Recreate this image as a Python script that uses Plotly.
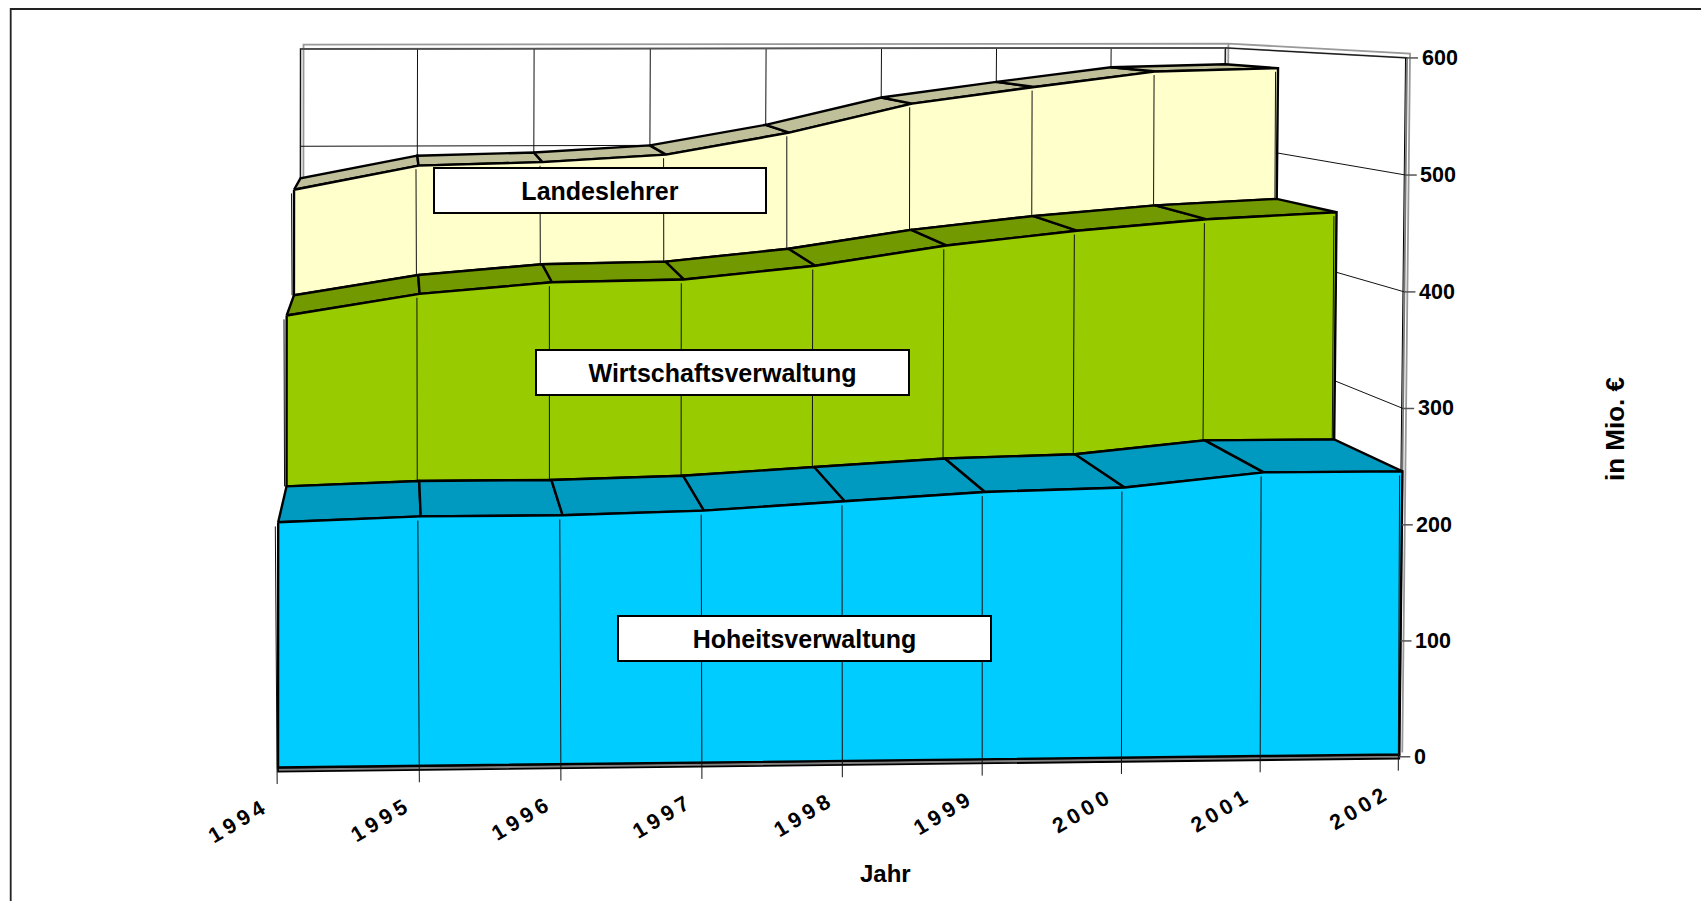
"""
Stacked 3-D area chart of the expenditure per administration branch, 1994-2002.
Plotly has no 3-D area type with this look, so the box is projected onto a flat pixel axis.
"""

import numpy as np
import plotly.graph_objects as go

years = ["1994", "1995", "1996", "1997", "1998", "1999", "2000", "2001", "2002"]
value_ticks = [0, 100, 200, 300, 400, 500, 600]

hoheit = [210, 214, 214, 217, 224, 231, 234, 246, 246]
wirtschaft = [155, 170, 180, 179, 184, 195, 205, 203, 209]
landeslehrer = [102, 106, 99, 104, 113, 123, 126, 131, 128]

series_names = ["Hoheitsverwaltung", "Wirtschaftsverwaltung", "Landeslehrer"]
face_colors = ["#00CCFF", "#99CC00", "#FFFFCC"]
top_colors = ["#0099BF", "#739900", "#BFBF99"]

# camera of the chart box: (year index, depth band, value) -> page pixels
CAMERA = np.array([
    [143.05746, 29.547102, -0.002311, 278.026131],
    [-0.061648, 0.159593, -1.184706, 769.831991],
    [0.002075, 0.074014, -1.1e-05, 1.0],
])

FONT = "Liberation Sans"
n = len(years)
last = n - 1
depth_back = len(series_names)
v_max = value_ticks[-1]


def proj(u, d, v, dx=0, dy=0):
    h = CAMERA @ np.array([u, d, v, 1.0])
    return (h[0] / h[2] + dx, h[1] / h[2] + dy)


fig = go.Figure()


def line(points, color="black", width=1.0):
    fig.add_trace(go.Scatter(
        x=[p[0] for p in points], y=[p[1] for p in points], mode="lines",
        line=dict(color=color, width=width), hoverinfo="skip", showlegend=False,
    ))


def poly(points, fill, width=2.4):
    fig.add_trace(go.Scatter(
        x=[p[0] for p in points] + [points[0][0]], y=[p[1] for p in points] + [points[0][1]],
        mode="lines", fill="toself", fillcolor=fill,
        line=dict(color="black", width=width), hoverinfo="skip", showlegend=False,
    ))


def label(x, y, text, size, **kw):
    fig.add_annotation(x=x, y=y, text=text, showarrow=False,
                       font=dict(family=FONT, size=size, color="black", weight=700), **kw)


# outer frame of the chart area, open to the right and at the bottom
line([(10.7, 901), (10.7, 9), (1701, 9)], "#222222", 1.8)

# double grey frame of the walls
for dx, dy, col in [(3, -4.3, "#999999"), (0, 0, "#777777")]:
    line([proj(0, depth_back, 460, dx, dy), proj(0, depth_back, v_max, dx, dy),
          proj(last, depth_back, v_max, dx, dy), proj(last, 0, v_max, dx, dy),
          proj(last, 0, 0, dx, dy)], col, 1.8)
    line([proj(last, depth_back, v_max, dx, dy), proj(last, depth_back, 560, dx, dy)], col, 1.8)
line([proj(last, 0, v_max, -1.5), proj(last, 0, 0, -1.5)], "black", 1)

# back wall and right wall grid
for i in range(n):
    line([proj(i, depth_back, v_max), proj(i, depth_back, 0)], "#111111", 1)
for v in value_ticks[1:]:
    line([proj(0, depth_back, v), proj(last, depth_back, v), proj(last, 0, v)], "#111111", 1)
line([proj(0, depth_back, v_max), proj(last, depth_back, v_max)], "#555555", 1.5)

# floor edge below the front area
poly([proj(i, 0, 2) for i in range(n)] + [proj(i, 0, -1.5) for i in reversed(range(n))], "#808080", 1.8)

# stacked bands, back one first so the front ones cover it
cumulative = np.cumsum([hoheit, wirtschaft, landeslehrer], axis=0)
for s in reversed(range(len(series_names))):
    top = cumulative[s]
    base = cumulative[s - 1] if s > 0 else [2] * n
    for i in range(n - 1):
        poly([proj(i, s, top[i]), proj(i + 1, s, top[i + 1]),
              proj(i + 1, s + 1, top[i + 1]), proj(i, s + 1, top[i])], top_colors[s])
    poly([proj(i, s, top[i]) for i in range(n)] +
         [proj(i, s, base[i]) for i in reversed(range(n))], face_colors[s])
    shift_low = 0.006 if s == 0 else 0.015
    for i in range(n):
        low = -12 if s == 0 else base[i]
        line([proj(i - 0.02, s, top[i] - 3.5), proj(i - shift_low, s, low)], "#111111", 1)

# value axis
for v in value_ticks:
    x, y = proj(last, 0, v)
    line([(x, y), (x + 11, y)], "#555555", 1.5)
    label(x + 12.5, y, str(v), 21.5, xanchor="left", yanchor="middle")

# year axis, letter spacing is added in the page below
for i, year in enumerate(years):
    x, y = proj(i, 0, -12)
    label(x - 39.5, y + 37.5, year, 21.5, textangle=-31, xanchor="center", yanchor="middle")

label(885, 873, "Jahr", 24, xanchor="center", yanchor="middle")
label(1615, 429, "in Mio. €", 26, textangle=-90, xanchor="center", yanchor="middle")

# series labels in white boxes
boxes = [(804.5, 638.5, 375, 47), (722, 372.5, 375, 47), (599.5, 190.5, 334, 47)]
for name, (x, y, w, h) in zip(series_names, boxes):
    label(x, y, name, 25, xanchor="center", yanchor="middle", width=w - 4, height=h - 4,
          align="center", valign="middle", bgcolor="white", bordercolor="black", borderwidth=2, borderpad=0)

fig.update_layout(
    width=1701, height=901, margin=dict(l=0, r=0, t=0, b=0),
    paper_bgcolor="white", plot_bgcolor="white", showlegend=False,
    xaxis=dict(range=[0, 1701], visible=False, fixedrange=True),
    yaxis=dict(range=[901, 0], visible=False, fixedrange=True),
)

# axes are page pixels, so drop the body margin; years get their wide letter spacing
page_script = """
document.body.style.margin = '0';
document.body.style.overflow = 'hidden';
document.querySelectorAll('.annotation-text').forEach(function (t) {
  if (/^\\d{4}$/.test(t.textContent)) { t.style.letterSpacing = '4.5px'; }
});
"""
fig.write_html("out.html", post_script=page_script, config=dict(displayModeBar=False))
